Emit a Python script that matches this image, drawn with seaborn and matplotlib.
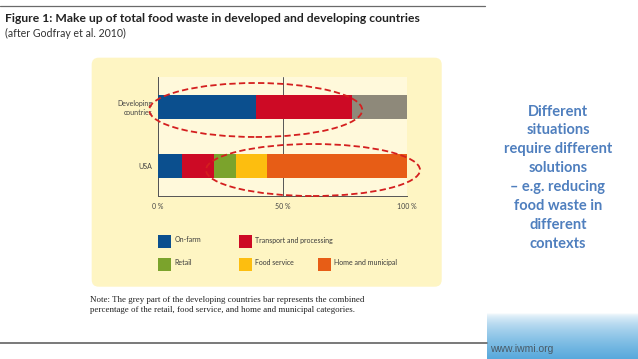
import numpy as np
import pandas as pd
import matplotlib
matplotlib.use("Agg")
import matplotlib.pyplot as plt
import seaborn as sns
from matplotlib.patches import Rectangle, FancyBboxPatch, Ellipse
from matplotlib.lines import Line2D

# ---------------- data ----------------
categories = ["Developing\ncountries", "USA"]
segments = ["On-farm", "Transport and processing", "Retail", "Food service",
            "Home and municipal", "Retail + food service + home and municipal"]
developing_values = [39.3, 38.7, 0.0, 0.0, 0.0, 22.0]
usa_values = [9.7, 12.7, 9.1, 12.4, 56.1, 0.0]
x_ticks = [0, 50, 100]
x_tick_labels = ["0 %", "50 %", "100 %"]
legend_labels = ["On-farm", "Transport and processing", "Retail", "Food service", "Home and municipal"]
seg_colors = ["#0b4f8e", "#cd0a25", "#7ba32c", "#fdbe0f", "#e75d16", "#8e897a"]

title = "Figure 1: Make up of total food waste in developed and developing countries"
subtitle = "(after Godfray et al. 2010)"
note_lines = ["Note: The grey part of the developing countries bar represents the combined",
              "percentage of the retail, food service, and home and municipal categories."]
side_text = ["Different", "situations", "require different", "solutions",
             "\u2013 e.g. reducing", "food waste in", "different", "contexts"]
url_text = "www.iwmi.org"

# ---------------- build table ----------------
rows = []
for cat, vals in zip(categories, [developing_values, usa_values]):
    cum = np.cumsum(vals)
    for seg, v, e in zip(segments, vals, cum):
        rows.append({"category": cat, "segment": seg, "value": v, "end": e})
df = pd.DataFrame(rows)

sns.set_theme(style="white")
plt.rcParams["font.family"] = ["Lato", "DejaVu Sans"]

W, H = 638, 359
fig = plt.figure(figsize=(W / 100, H / 100), dpi=100)
fig.patch.set_facecolor("white")

def fx(px):
    return px / W

def fy(py):
    return 1 - py / H

# yellow panel (behind everything)
panel = FancyBboxPatch((91.7 / 100, (H - 286.7) / 100), (441.7 - 91.7) / 100, (286.7 - 57.7) / 100,
                       boxstyle="round,pad=0,rounding_size=0.07",
                       transform=fig.dpi_scale_trans, facecolor="#fef5c3", edgecolor="none", zorder=-5)
fig.patches.append(panel)

# top and bottom rules
fig.add_artist(Line2D([0, fx(485)], [fy(6), fy(6)], color="#6a6a6a", lw=0.9, transform=fig.transFigure))
fig.add_artist(Line2D([0, fx(487)], [fy(343), fy(343)], color="#555555", lw=1.1, transform=fig.transFigure))

# ---------------- chart axes ----------------
ax = fig.add_axes([fx(157.7), fy(195.7), (407.3 - 157.7) / W, (195.7 - 77.0) / H])
ax.set_zorder(1)
ax.set_facecolor("#fff9db")

for seg, col in reversed(list(zip(segments, seg_colors))):
    sub = df[(df["segment"] == seg) & (df["value"] > 0)]
    sns.barplot(data=sub, x="end", y="category", order=categories, color=col,
                orient="h", width=0.4, saturation=1, errorbar=None,
                linewidth=0, edgecolor="none", ax=ax, zorder=3)

ax.set_xlim(0, 100)
ax.set_ylim(1.5, -0.5)
ax.set_xlabel("")
ax.set_ylabel("")
ax.set_xticks(x_ticks)
ax.set_xticklabels(x_tick_labels, fontsize=5, color="#444444")
ax.set_yticks([0, 1])
ax.set_yticklabels(categories, fontsize=5, color="#444444", linespacing=1.3)
ax.set_yticks([-0.5, 0.5, 1.5], minor=True)
ax.tick_params(axis="x", which="both", length=0, pad=5.5)
ax.tick_params(axis="y", which="major", length=0, pad=4)
ax.tick_params(axis="y", which="minor", length=9.2, width=0.7, color="#555555", direction="out")
ax.grid(axis="x", color="#555555", lw=0.7, zorder=1)
ax.grid(axis="y", visible=False)
ax.set_axisbelow(True)
for s in ["top", "right"]:
    ax.spines[s].set_visible(False)
for s in ["left", "bottom"]:
    ax.spines[s].set_color("#555555")
    ax.spines[s].set_linewidth(0.7)

# ---------------- legend (manual layout) ----------------
leg_pos = [(157.7, 235), (238.7, 235), (157.7, 257.7), (238.7, 257.7), (318.0, 257.7)]
for (lx, ly), lab, col in zip(leg_pos, legend_labels, seg_colors[:5]):
    fig.patches.append(Rectangle((fx(lx), fy(ly + 13)), 13 / W, 13 / H,
                                 transform=fig.transFigure, facecolor=col, edgecolor="none", zorder=2))
    fig.text(fx(lx + 16.5), fy(ly + 5), lab, fontsize=5, color="#3a3a3a", va="center", ha="left")

# ---------------- dashed ellipses ----------------
for cx, cy, ew, eh in [(255.7, 110.0, 213, 54), (313.0, 170.0, 214, 52)]:
    e = Ellipse((fx(cx), fy(cy)), ew / W, eh / H, transform=fig.transFigure,
                facecolor="none", edgecolor="#d41f1f", lw=1.3, ls=(0, (3.5, 1.8)), zorder=10)
    fig.patches.append(e)

# ---------------- texts ----------------
fig.text(fx(5), fy(18), title, fontsize=8.75, fontweight="bold", color="#222222", va="center", ha="left")
fig.text(fx(5), fy(33), subtitle, fontsize=7.6, color="#333333", va="center", ha="left")

for i, line in enumerate(note_lines):
    fig.text(fx(90), fy(300 + 10 * i), line, fontsize=6.4, color="#222222", va="center", ha="left",
             family=["Liberation Serif", "DejaVu Serif"])

for i, line in enumerate(side_text):
    fig.text(fx(558), fy(111.5 + 18.9 * i), line, fontsize=10.5, fontweight="bold", color="#4f7fbe",
             va="center", ha="center")

# gradient box with url
gax = fig.add_axes([fx(487), 0, (W - 487) / W, (H - 313) / H])
g = np.linspace(0, 1, 100) ** 0.6
top = np.array([1.0, 1.0, 1.0])
bot = np.array([0x58, 0xa9, 0xdc]) / 255
img = (top[None, :] * (1 - g[:, None]) + bot[None, :] * g[:, None])[:, None, :]
gax.imshow(img, aspect="auto", extent=[0, 1, 0, 1], origin="upper")
gax.set_axis_off()
fig.text(fx(490), fy(349), url_text, fontsize=7.5, color="#4a5a66", va="center", ha="left",
         family=["Liberation Sans", "DejaVu Sans"])

fig.savefig("out.png", dpi=100)
